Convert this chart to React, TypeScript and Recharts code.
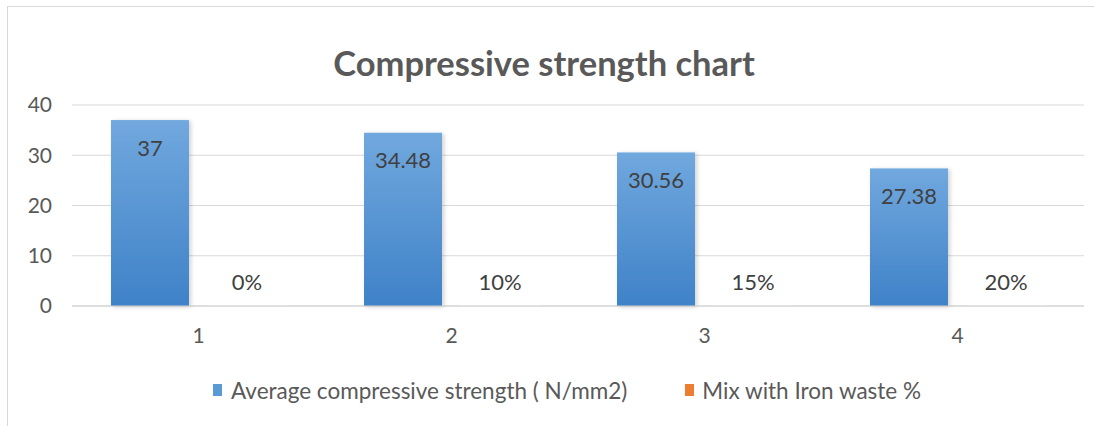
import React from "react";
import { BarChart, Bar, XAxis, YAxis, CartesianGrid, Legend, LabelList } from "recharts";

const categories = ["1", "2", "3", "4"];
const strength = [37, 34.48, 30.56, 27.38];
const ironWaste = [0, 0.1, 0.15, 0.2];
const yTicks = [0, 10, 20, 30, 40];
const seriesNames = ["Average compressive strength ( N/mm2)", "Mix with Iron waste %"];

const data = categories.map((c, i) => ({ cat: c, strength: strength[i], iron: ironWaste[i] }));

const FONT = "Lato, 'Open Sans', sans-serif";
const TEXT = "#595959";
const BLUE = "#5b9bd5";
const ORANGE = "#ed7d31";

const BarShape = (props: any) => {
  const { x, y, width, height, fill } = props;
  if (!height || height <= 0) return null;
  return <rect x={x} y={y} width={width} height={height} fill={fill} filter="url(#barShadow)" />;
};

const LegendContent = () => (
  <div
    style={{
      height: 60,
      width: 1104,
      display: "flex",
      alignItems: "center",
      paddingLeft: 213,
      boxSizing: "border-box",
      fontFamily: FONT,
      fontSize: 22.5,
      color: TEXT,
      paddingBottom: 12,
    }}
  >
    <span style={{ display: "inline-block", width: 9, height: 12, background: BLUE, marginRight: 9 }} />
    <span>{seriesNames[0]}</span>
    <span style={{ display: "inline-block", width: 9, height: 12, background: ORANGE, marginLeft: 58, marginRight: 8 }} />
    <span>{seriesNames[1]}</span>
  </div>
);

export default function App() {
  return (
    <div style={{ position: "absolute", left: 0, top: 0, width: 1104, height: 426, background: "#fff", overflow: "hidden" }}>
      <div
        style={{
          position: "absolute",
          left: 7,
          top: 6,
          width: 1086,
          height: 430,
          borderTop: "1px solid #d9d9d9",
          borderLeft: "1px solid #d9d9d9",
        }}
      />
      <div
        style={{
          position: "absolute",
          left: 0,
          width: 1088,
          top: 43,
          textAlign: "center",
          fontFamily: FONT,
          fontWeight: 700,
          fontSize: 34.5,
          lineHeight: "40px",
          color: TEXT,
        }}
      >
        Compressive strength chart
      </div>
      <div style={{ position: "absolute", left: 0, top: 0 }}>
        <BarChart
          width={1104}
          height={426}
          data={data}
          margin={{ top: 105, right: 20, bottom: 0, left: 0 }}
          barCategoryGap={39}
          barGap={19}
        >
          <defs>
            <linearGradient id="blueGrad" x1="0" y1="0" x2="0" y2="1">
              <stop offset="0%" stopColor="#71a8de" />
              <stop offset="100%" stopColor="#3f82c8" />
            </linearGradient>
            <filter id="barShadow" x="-20%" y="-5%" width="140%" height="110%">
              <feDropShadow dx="2" dy="1" stdDeviation="2" floodColor="#000" floodOpacity="0.18" />
            </filter>
          </defs>
          <CartesianGrid vertical={false} stroke="#d9d9d9" strokeWidth={1} />
          <XAxis
            dataKey="cat"
            height={60}
            axisLine={{ stroke: "#d0d0d0" }}
            tickLine={false}
            tickSize={0}
            tickMargin={22}
            tick={{ fill: TEXT, fontSize: 21, fontFamily: FONT }}
          />
          <YAxis
            width={72}
            domain={[0, 40]}
            ticks={yTicks}
            axisLine={false}
            tickLine={false}
            tickSize={0}
            tickMargin={20}
            tick={{ fill: TEXT, fontSize: 21, fontFamily: FONT }}
          />
          <Legend verticalAlign="bottom" align="left" height={60} wrapperStyle={{ left: 0, width: 1104 }} content={<LegendContent />} />
          <Bar dataKey="strength" name={seriesNames[0]} fill="url(#blueGrad)" shape={BarShape} isAnimationActive={false}>
            <LabelList
              dataKey="strength"
              position="insideTop"
              offset={20}
              style={{ fill: "#404040", fontSize: 22, fontFamily: FONT }}
            />
          </Bar>
          <Bar dataKey="iron" name={seriesNames[1]} fill="#f3f3f3" minPointSize={1} isAnimationActive={false}>
            <LabelList
              dataKey="iron"
              position="top"
              offset={15}
              formatter={(v: any) => `${Math.round(Number(v) * 100)}%`}
              style={{ fill: "#404040", fontSize: 22, fontFamily: FONT }}
            />
          </Bar>
        </BarChart>
      </div>
    </div>
  );
}
